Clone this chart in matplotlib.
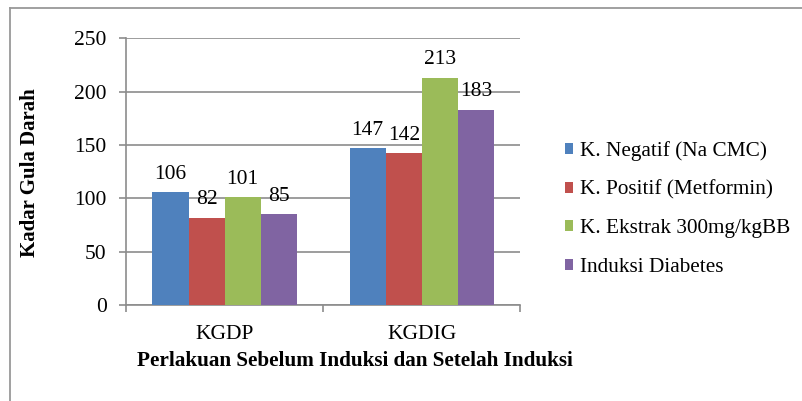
import numpy as np
import matplotlib.pyplot as plt
from matplotlib.lines import Line2D

plt.rcParams['font.family'] = ['Liberation Serif', 'DejaVu Serif']

categories = ['KGDP', 'KGDIG']
series = ['K. Negatif (Na CMC)', 'K. Positif (Metformin)',
          'K. Ekstrak 300mg/kgBB', 'Induksi Diabetes']
values = [
    [106, 147],
    [82, 142],
    [101, 213],
    [85, 183],
]
colors = ['#4F81BD', '#C0504D', '#9BBB59', '#8064A2']

fig = plt.figure(figsize=(8.03, 4.01), dpi=100)
ax = fig.add_axes([0.157, 0.239, 0.491, 0.666])

x = np.arange(len(categories))
w = 0.183
for i, (name, vals) in enumerate(zip(series, values)):
    pos = x + (i - 1.5) * w
    bars = ax.bar(pos, vals, w, color=colors[i], label=name, zorder=3)
    for b, v in zip(bars, vals):
        ax.annotate(str(v), (b.get_x() + b.get_width() / 2, v),
                    xytext=(0, 6), textcoords='offset points',
                    ha='center', va='bottom', fontsize=15.5, zorder=4)

ax.set_xlim(-0.5, 1.5)
ax.set_ylim(0, 250)
ax.set_yticks(range(0, 251, 50))
ax.yaxis.grid(True, color='#8c8c8c', linewidth=1.2, zorder=0)
ax.set_xticks(x)
ax.set_xticklabels(categories, fontsize=15.5)
ax.set_xticks([-0.5, 0.5, 1.5], minor=True)
ax.tick_params(axis='x', which='major', length=0, pad=14)
ax.tick_params(axis='x', which='minor', length=5, color='#8c8c8c', width=1.2)
ax.tick_params(axis='y', length=5, color='#8c8c8c', width=1.2, labelsize=15.5, pad=9)
for s in ['top', 'right']:
    ax.spines[s].set_visible(False)
for s in ['left', 'bottom']:
    ax.spines[s].set_color('#8c8c8c')
    ax.spines[s].set_linewidth(1.2)

fig.text(0.037, 0.57, 'Kadar Gula Darah', rotation=90, ha='center', va='center',
         fontsize=15, fontweight='bold')
fig.text(0.442, 0.1, 'Perlakuan Sebelum Induksi dan Setelah Induksi',
         ha='center', va='center', fontsize=15.2, fontweight='bold')

ax.legend(loc='center left', bbox_to_anchor=(0.693, 0.479),
          bbox_transform=fig.transFigure, frameon=False, fontsize=15.3,
          handlelength=0.4, handleheight=0.4, handletextpad=0.3,
          labelspacing=0.92, borderaxespad=0)

# outer chart frame (cropped at right and bottom)
fig.add_artist(Line2D([0.0125, 1.0], [0.98, 0.98], transform=fig.transFigure,
                      color='#999999', linewidth=1.3))
fig.add_artist(Line2D([0.0125, 0.0125], [0.0, 0.98], transform=fig.transFigure,
                      color='#999999', linewidth=1.3))

fig.savefig('out.png', dpi=100)
